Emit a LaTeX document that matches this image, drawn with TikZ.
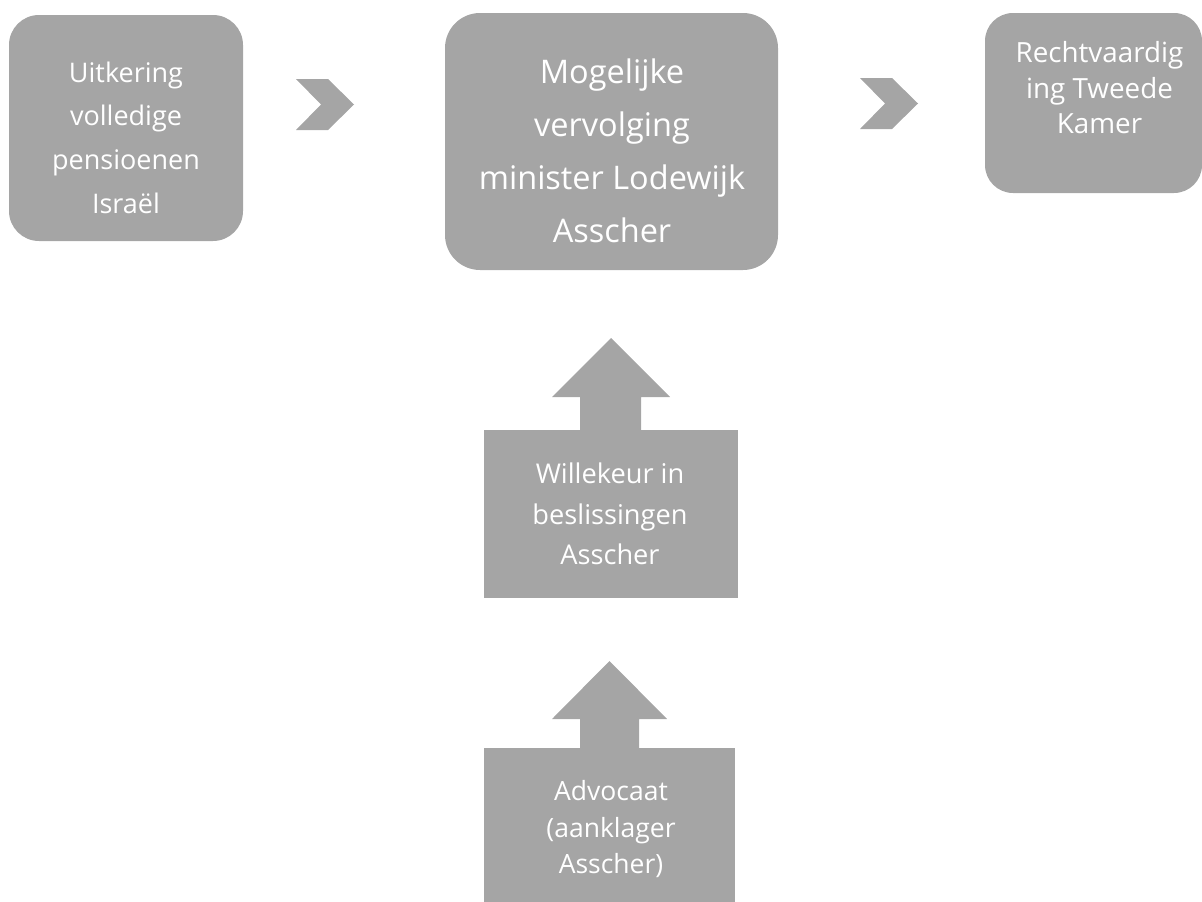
\documentclass[tikz,border=0pt]{standalone}
\usepackage{fontspec}
\setmainfont{Open Sans}
\usepackage{tikz}
\definecolor{smartgray}{HTML}{A5A5A5}

\begin{document}
\begin{tikzpicture}[x=1pt,y=-1pt]
\tikzstyle{block}=[fill=smartgray,inner sep=0pt];
\tikzstyle{caption}=[text=white,align=center,inner sep=0pt];
\tikzstyle{marker}=[fill=smartgray];
\useasboundingbox (0,0) rectangle (1202,902);

\node [block,rounded corners=30pt,minimum width=234pt,minimum height=226pt] (pension) at (126,128) {};
\node [caption,font=\fontsize{27}{43.7}\selectfont] (pensiontext) at (126,137.5) {Uitkering\\volledige\\pensioenen\\Israël};

\node [block,rounded corners=35pt,minimum width=333pt,minimum height=257pt] (trial) at (611.5,141.5) {};
\node [caption,font=\fontsize{32.5}{53}\selectfont] (trialtext) at (612,151) {Mogelijke\\vervolging\\minister Lodewijk\\Asscher};

\node [block,rounded corners=28pt,minimum width=217pt,minimum height=180pt] (chamber) at (1093.5,103) {};
\node [caption,font=\fontsize{27.8}{35.5}\selectfont] (chambertext) at (1099.5,88) {Rechtvaardig\\ing Tweede\\Kamer};

\node [block,minimum width=254pt,minimum height=168pt] (arbitrary) at (611,514) {};
\node [caption,font=\fontsize{27.2}{40.5}\selectfont] (arbitrarytext) at (610,514) {Willekeur in\\beslissingen\\Asscher};

\node [block,minimum width=251pt,minimum height=154pt] (lawyer) at (609.5,825) {};
\node [caption,font=\fontsize{26.5}{36.5}\selectfont] (lawyertext) at (611,829.5) {Advocaat\\(aanklager\\Asscher)};

% chevrons
\fill [marker] (296,79) -- (328,79) -- (354,104.5) -- (328,130) -- (296,130) -- (321,104.5) -- cycle;
\fill [marker] (860,78) -- (892,78) -- (918,103.5) -- (892,129) -- (860,129) -- (885,103.5) -- cycle;

% up arrows
\fill [marker] (580,430) -- (580,397) -- (552,397) -- (611,338) -- (670,397) -- (641,397) -- (641,430) -- cycle;
\fill [marker] (580,748) -- (580,719) -- (552,719) -- (609.5,661) -- (667,719) -- (639,719) -- (639,748) -- cycle;
\end{tikzpicture}
\end{document}
